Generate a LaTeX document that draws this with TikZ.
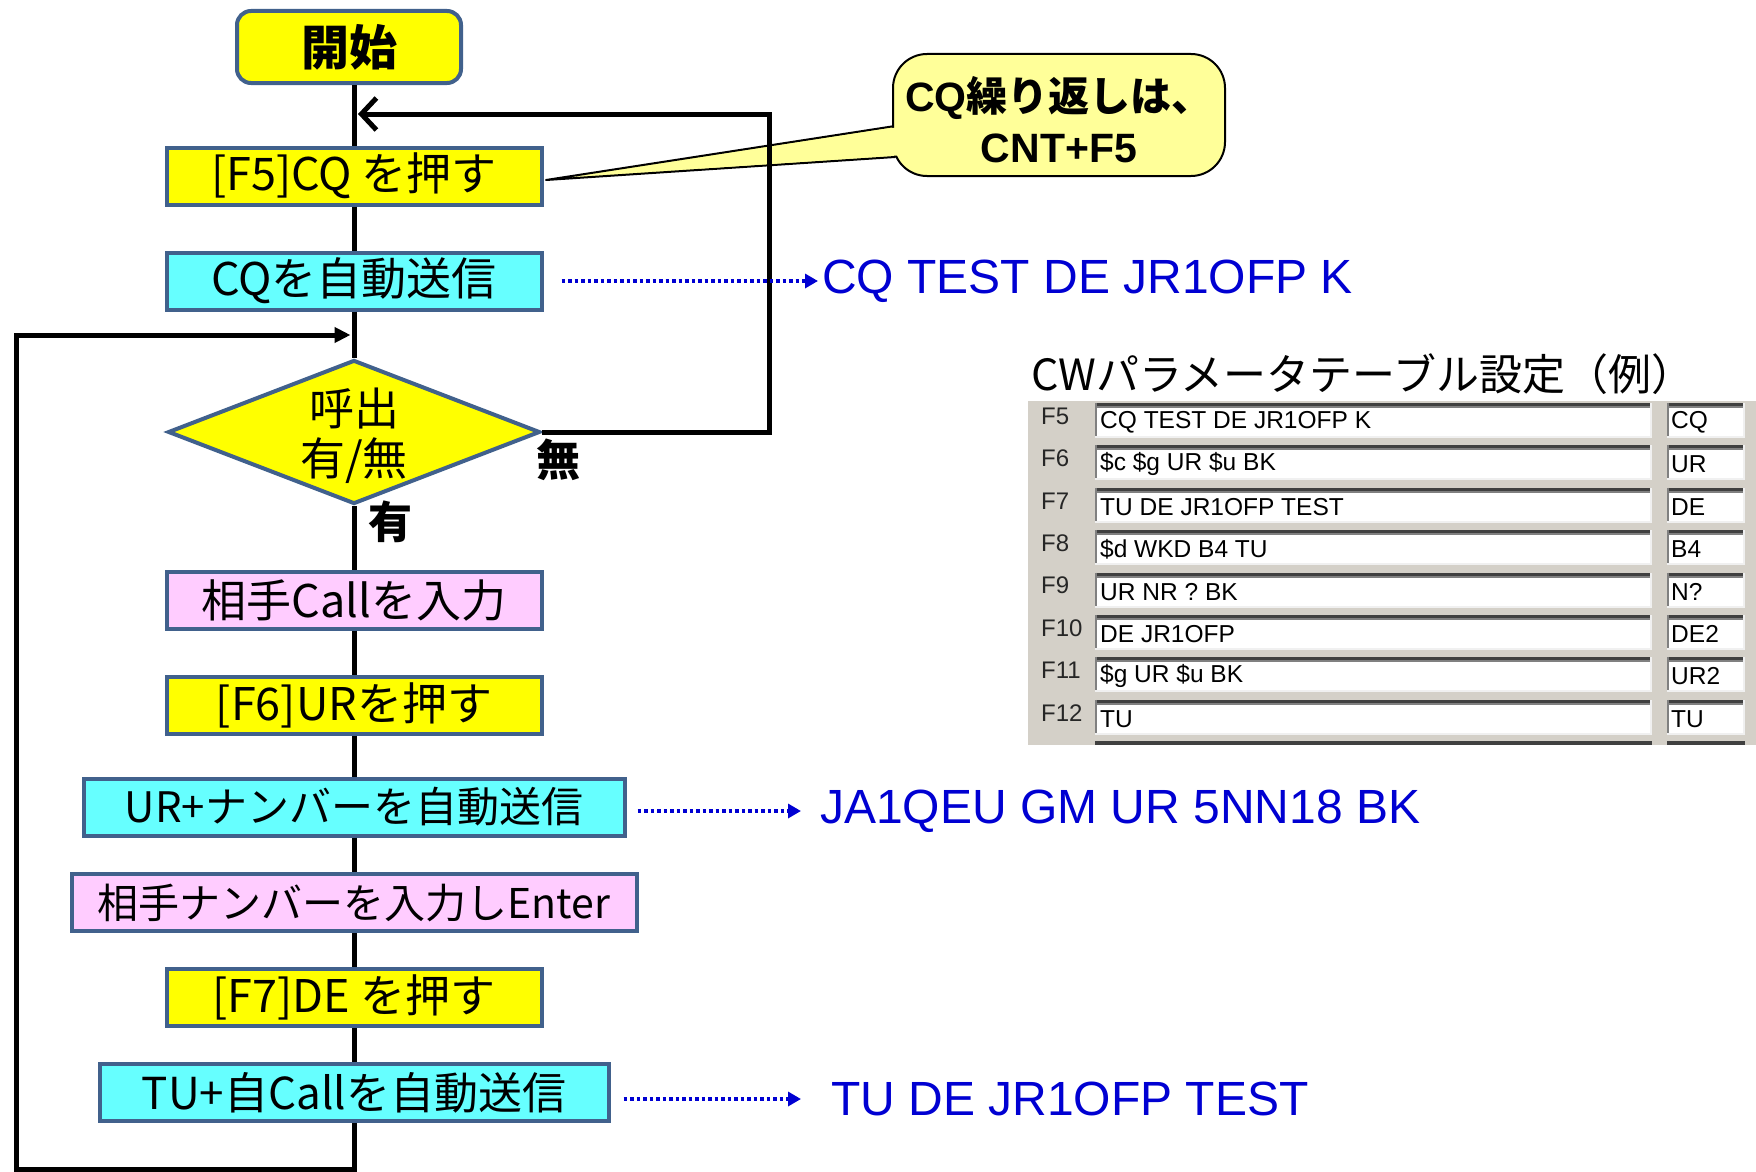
\documentclass[tikz,border=0pt]{standalone}
\usepackage{fontspec}
\setmainfont{Noto Sans CJK JP}
\newfontfamily\arialf{Liberation Sans}
\usetikzlibrary{arrows.meta,shapes.geometric}
\definecolor{boxyellow}{RGB}{255,255,0}
\definecolor{boxcyan}{RGB}{102,255,255}
\definecolor{boxpink}{RGB}{255,204,255}
\definecolor{bordc}{RGB}{65,97,140}
\definecolor{callfill}{RGB}{255,255,153}
\definecolor{tgray}{RGB}{212,208,200}
\definecolor{cwblue}{RGB}{0,0,210}
\definecolor{edark}{RGB}{64,64,64}
\definecolor{emid}{RGB}{128,128,128}
\definecolor{elight}{RGB}{240,240,240}
\newcommand\tfield[4]{%
  \fill[white] (#1,#3) rectangle (#2,#4);
  \draw[edark, line width=3pt] (#1,#3+1.5) -- (#2,#3+1.5);
  \draw[emid, line width=2pt] (#1,#3+4) -- (#2,#3+4);
  \draw[emid, line width=2pt] (#1+1,#3) -- (#1+1,#4);
  \draw[elight, line width=2pt] (#1,#4-1) -- (#2,#4-1);
  \draw[elight, line width=2pt] (#2-1,#3) -- (#2-1,#4);
}
\tikzset{
  box/.style={draw=bordc, line width=4pt, inner sep=0pt, minimum height=57pt, font=\fontsize{45}{48}\selectfont},
  ybox/.style={box, fill=boxyellow, minimum width=375pt},
  cbox/.style={box, fill=boxcyan},
  pbox/.style={box, fill=boxpink},
  flow/.style={line width=5pt, black},
  dotarrow/.style={cwblue, line width=3.5pt, dash pattern=on 3.5pt off 3pt, -{Triangle[length=13pt,width=14pt]}},
  bluetext/.style={cwblue, anchor=west, inner sep=0pt, font=\arialf\fontsize{48}{52}\selectfont},
  lbl/.style={font=\bfseries\fontsize{44}{48}\selectfont, inner sep=0pt},
  rowlab/.style={anchor=west, inner sep=0pt, font=\arialf\fontsize{24}{26}\selectfont, text=black!85},
  fldtxt/.style={anchor=west, inner sep=0pt, font=\arialf\fontsize{24.5}{26}\selectfont},
}
\begin{document}
\begin{tikzpicture}[x=1pt,y=-1pt]
\useasboundingbox (0,0) rectangle (1756,1172);
\fill[white] (0,0) rectangle (1756,1172);

% callout
\filldraw[fill=callfill, draw=black, line width=2pt, line join=round] (546,180) -- (895,126) -- (895,157) -- cycle;
\draw[fill=callfill, line width=2pt, rounded corners=34pt] (893,54) rectangle (1225,176);
\fill[callfill] (700,157.9) -- (893,127.8) -- (925,127.8) -- (925,155.6) -- (893,155.6) -- (700,168.5) -- cycle;
\node[align=center, font=\bfseries\fontsize{41}{51}\selectfont] (callout) at (1059,120) {{\arialf CQ}繰り返しは、\\{\arialf CNT+F5}};

% flow nodes
\node[box, fill=boxyellow, rounded corners=14pt, minimum width=224pt, minimum height=72pt, font=\bfseries\fontsize{48}{52}\selectfont] (start) at (349,47) {開始};
\node[ybox] (f5) at (354,176) {[F5]CQ を押す};
\node[cbox, minimum width=375pt] (cq) at (354,281) {CQを自動送信};
\node[diamond, draw=bordc, line width=4pt, fill=boxyellow, minimum width=372pt, minimum height=144pt, inner sep=0pt] (dia) at (354,432) {};
\node[align=center, font=\fontsize{45}{50}\selectfont] (diat) at (354,436) {呼出\\有/無};
\node[pbox, minimum width=375pt] (call) at (354,600) {相手Callを入力};
\node[ybox] (f6) at (354,705) {[F6]URを押す};
\node[cbox, minimum width=541pt, font=\fontsize{42}{48}\selectfont] (ur) at (354,807) {UR+ナンバーを自動送信};
\node[pbox, minimum width=565pt, font=\fontsize{41}{48}\selectfont] (nr) at (354,902.5) {相手ナンバーを入力しEnter};
\node[ybox] (f7) at (354,997.5) {[F7]DE を押す};
\node[cbox, minimum width=509pt, font=\fontsize{44}{48}\selectfont] (tu) at (354,1092.5) {TU+自Callを自動送信};

\node[lbl] (nashi) at (558,460) {無};
\node[lbl] (ari) at (390,522) {有};

% connectors
\draw[flow] (f5.north |- start.south) -- (f5.north);
\draw[flow] (f5) -- (cq);
\draw[flow] (cq) -- (dia);
\draw[flow] (dia) -- (call);
\draw[flow] (call) -- (f6);
\draw[flow] (f6) -- (ur);
\draw[flow] (ur) -- (nr);
\draw[flow] (nr) -- (f7);
\draw[flow] (f7) -- (tu);

\coordinate (nr1) at (769,432);
\coordinate (rtip) at (358,114);
\draw[flow, -{Straight Barb[length=15pt,width=32pt]}] (dia.east) -- (nr1) |- (rtip);

\coordinate (bot) at (354,1169);
\coordinate (ltop) at (16,335);
\coordinate (ltip) at (350.5,335);
\draw[flow, -{Triangle[length=16pt,width=15pt]}] (tu) -- (bot) -| (ltop) -- (ltip);

% blue texts
\node[bluetext] (t1) at (822,281) {CQ TEST DE JR1OFP K};
\node[bluetext] (t2) at (820,811) {JA1QEU GM UR 5NN18 BK};
\node[bluetext] (t3) at (831,1099) {TU DE JR1OFP TEST};
\draw[dotarrow] ([xshift=18pt]cq.east |- t1.west) -- ([xshift=-4pt]t1.west);
\draw[dotarrow] ([xshift=11pt]ur.east |- t2.west) -- ([xshift=-19pt]t2.west);
\draw[dotarrow] ([xshift=13pt]tu.east |- t3.west) -- ([xshift=-30pt]t3.west);

% table
\node[anchor=west, inner sep=0pt, font=\fontsize{43}{46}\selectfont] (title) at (1031,374) {CWパラメータテーブル設定（例）};
\fill[tgray] (1028,401) rectangle (1756,745);
\foreach \i/\lab/\txt/\sh in {0/F5/{CQ TEST DE JR1OFP K}/CQ, 1/F6/{\$c \$g UR \$u BK}/UR, 2/F7/{TU DE JR1OFP TEST}/DE, 3/F8/{\$d WKD B4 TU}/B4, 4/F9/{UR NR ? BK}/N?, 5/F10/{DE JR1OFP}/DE2, 6/F11/{\$g UR \$u BK}/UR2, 7/F12/TU/TU} {
  \pgfmathsetmacro\ty{403+42.4*\i}
  \pgfmathsetmacro\by{\ty+35}
  \tfield{1095}{1652}{\ty}{\by}
  \tfield{1667}{1745}{\ty}{\by}
  \node[rowlab] (lab\i) at (1041,\ty+13) {\lab};
  \node[fldtxt] (fa\i) at (1100,\ty+19) {\txt};
  \node[fldtxt] (fb\i) at (1671,\ty+19) {\sh};
}
\fill[edark] (1095,741) rectangle (1652,745);
\fill[edark] (1667,741) rectangle (1745,745);
\end{tikzpicture}
\end{document}
